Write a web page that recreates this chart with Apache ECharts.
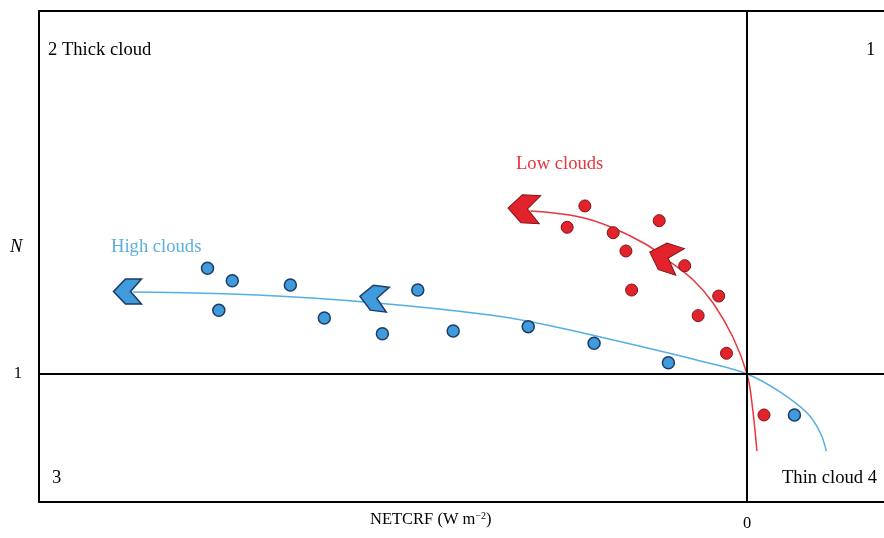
<!DOCTYPE html>
<html>
<head>
<meta charset="utf-8">
<script src="https://cdn.jsdelivr.net/npm/echarts@6/dist/echarts.min.js"></script>
<style>
html,body{margin:0;padding:0;background:#fff;}
#chart{width:884px;height:538px;}
</style>
</head>
<body>
<div id="chart"></div>
<script>
// NETCRF (arbitrary units, 0 = no net cloud radiative forcing), N (cloud amount ratio)
const highCloudPoints = [
  [-76.2, 1.826], [-72.7, 1.729], [-64.5, 1.695], [-74.6, 1.498],
  [-59.7, 1.438], [-46.5, 1.656], [-51.5, 1.315], [-41.5, 1.336],
  [-30.9, 1.370], [-21.6, 1.240], [-11.1, 1.088], [6.7, 0.680]
];
const lowCloudPoints = [
  [-22.9, 2.313], [-25.4, 2.146], [-18.9, 2.104], [-12.4, 2.198],
  [-17.1, 1.961], [-8.8, 1.846], [-16.3, 1.656], [-4.0, 1.609],
  [-6.9, 1.456], [-2.9, 1.162], [2.4, 0.680]
];
const highCloudCurve = [
  [11.2, 0.398], [10.3, 0.547], [8.5, 0.695], [4.7, 0.859], [0, 1],
  [-6.6, 1.102], [-14.1, 1.203], [-28.3, 1.383], [-36.3, 1.461],
  [-52.3, 1.555], [-69.2, 1.617], [-86.7, 1.641]
];
const lowCloudCurve = [
  [1.4, 0.398], [0.7, 0.773], [0, 1], [-2.0, 1.289], [-4.8, 1.555],
  [-7.6, 1.734], [-11.6, 1.906], [-14.1, 2.008], [-18.9, 2.141],
  [-23.6, 2.227], [-30.6, 2.273]
];
// [x, y, rotation]
const highCloudArrows = [[-87.5, 1.645, 0], [-52.7, 1.594, -7]];
const lowCloudArrows = [[-31.5, 2.290, -3], [-11.6, 1.914, -18]];
const xTickLabels = {'0': '0'};
const yTickLabels = {'1': '1'};
const quadrantLabels = ['2 Thick cloud', '1', '3', 'Thin cloud 4'];
const seriesNames = ['High clouds', 'Low clouds'];
const axisTitles = ['{a|NETCRF (W m}{s|\u22122}{a|)}', 'N'];

const FONT = '"Liberation Serif", "DejaVu Serif", serif';
const BLUE = '#3f9bdb', BLUE_EDGE = '#1d3b66', BLUE_LINE = '#55aee4', BLUE_TEXT = '#5aaee0';
const RED = '#e3232b', RED_EDGE = '#7f1418', RED_LINE = '#e8363c';
const chevron = 'path://M0,12 L12,0 L28,0 L17,12 L28,24 L12,24 Z';
const XMIN = -100, XMAX = 19.35, YMIN = 0, YMAX = 3.836;

const chart = echarts.init(document.getElementById('chart'), null, {renderer: 'canvas'});
chart.setOption({
  animation: false,
  backgroundColor: '#fff',
  grid: {left: 39, top: 11, right: 0, bottom: 36, show: false},
  xAxis: [{
    type: 'value', min: XMIN, max: XMAX, interval: 20, position: 'bottom',
    axisLine: {show: true, onZero: false, lineStyle: {color: '#000', width: 2}},
    axisTick: {show: false}, splitLine: {show: false},
    axisLabel: {margin: 13, fontFamily: FONT, fontSize: 16.5, color: '#000',
      showMaxLabel: false, formatter: v => xTickLabels[String(v)] || ''}
  }, {
    type: 'value', min: XMIN, max: XMAX, position: 'top',
    axisLine: {show: true, onZero: false, lineStyle: {color: '#000', width: 2}},
    axisTick: {show: false}, splitLine: {show: false}, axisLabel: {show: false}
  }],
  yAxis: {
    type: 'value', min: YMIN, max: YMAX, interval: 1,
    axisLine: {show: true, onZero: false, lineStyle: {color: '#000', width: 2}},
    axisTick: {show: false}, splitLine: {show: false},
    axisLabel: {margin: 17, fontFamily: FONT, fontSize: 16.5, color: '#000',
      formatter: v => yTickLabels[String(v)] || ''}
  },
  graphic: [
    {type: 'text', left: 48, top: 41, style: {text: quadrantLabels[0], font: '18.6px ' + FONT, fill: '#000'}},
    {type: 'text', left: 866, top: 41, style: {text: quadrantLabels[1], font: '18.6px ' + FONT, fill: '#000'}},
    {type: 'text', left: 52, top: 469, style: {text: quadrantLabels[2], font: '18.6px ' + FONT, fill: '#000'}},
    {type: 'text', left: 782, top: 469, style: {text: quadrantLabels[3], font: '18.6px ' + FONT, fill: '#000'}},
    {type: 'text', left: 111, top: 238, style: {text: seriesNames[0], font: '18.6px ' + FONT, fill: BLUE_TEXT}},
    {type: 'text', left: 516, top: 155, style: {text: seriesNames[1], font: '18.6px ' + FONT, fill: RED_LINE}},
    {type: 'text', left: 370, top: 511, style: {text: axisTitles[0],
      rich: {
        a: {fontFamily: FONT, fontSize: 16.5, fill: '#000', color: '#000'},
        s: {fontFamily: FONT, fontSize: 10, fill: '#000', color: '#000', padding: [0, 0, 8, 0]}
      }}},
    {type: 'text', left: 10, top: 238, style: {text: axisTitles[1], font: 'italic 18.6px ' + FONT, fill: '#000'}}
  ],
  series: [
    {
      type: 'line', data: highCloudCurve, smooth: 0.4, symbol: 'none', silent: true,
      lineStyle: {color: BLUE_LINE, width: 1.5}, z: 2,
      markLine: {
        silent: true, symbol: 'none', label: {show: false},
        lineStyle: {color: '#000', width: 2, type: 'solid'},
        data: [{xAxis: 0}, {yAxis: 1}]
      }
    },
    {
      type: 'line', data: lowCloudCurve, smooth: 0.4, symbol: 'none', silent: true,
      lineStyle: {color: RED_LINE, width: 1.5}, z: 2
    },
    {
      name: seriesNames[0], type: 'scatter', data: highCloudPoints, symbolSize: 12, z: 4,
      itemStyle: {color: BLUE, borderColor: BLUE_EDGE, borderWidth: 1.5, opacity: 1}
    },
    {
      name: seriesNames[1], type: 'scatter', data: lowCloudPoints, symbolSize: 12, z: 4,
      itemStyle: {color: RED, borderColor: RED_EDGE, borderWidth: 1, opacity: 1}
    },
    {
      type: 'scatter', data: highCloudArrows.map(a => ({value: [a[0], a[1]], symbolRotate: a[2]})),
      symbol: chevron, symbolSize: [28, 25], z: 5,
      itemStyle: {color: BLUE, borderColor: BLUE_EDGE, borderWidth: 1.5, opacity: 1}
    },
    {
      type: 'scatter', data: lowCloudArrows.map(a => ({value: [a[0], a[1]], symbolRotate: a[2]})),
      symbol: chevron, symbolSize: [32, 28], z: 5,
      itemStyle: {color: RED, borderColor: RED_EDGE, borderWidth: 1, opacity: 1}
    }
  ]
});
</script>
</body>
</html>
